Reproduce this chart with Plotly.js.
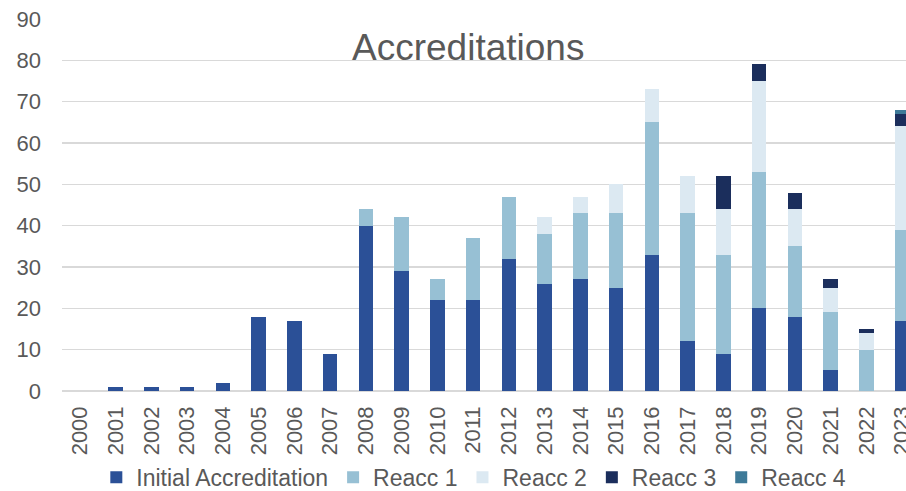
<!DOCTYPE html>
<html>
<head>
<meta charset="utf-8">
<script src="https://cdn.plot.ly/plotly-3.0.1.min.js"></script>
<style>
html, body { margin: 0; padding: 0; overflow: hidden; background: #fff; }
#chart { width: 922px; height: 491px; }
</style>
</head>
<body>
<div id="chart"></div>
<script>
const years = ["2000","2001","2002","2003","2004","2005","2006","2007","2008","2009","2010","2011","2012","2013","2014","2015","2016","2017","2018","2019","2020","2021","2022","2023"];
const initialAccreditation = [0,1,1,1,2,18,17,9,40,29,22,22,32,26,27,25,33,12,9,20,18,5,0,17];
const reacc1 = [0,0,0,0,0,0,0,0,4,13,5,15,15,12,16,18,32,31,24,33,17,14,10,22];
const reacc2 = [0,0,0,0,0,0,0,0,0,0,0,0,0,4,4,7,8,9,11,22,9,6,4,25];
const reacc3 = [0,0,0,0,0,0,0,0,0,0,0,0,0,0,0,0,0,0,8,4,4,2,1,3];
const reacc4 = [0,0,0,0,0,0,0,0,0,0,0,0,0,0,0,0,0,0,0,0,0,0,0,1];
const seriesNames = ["Initial Accreditation","Reacc 1","Reacc 2","Reacc 3","Reacc 4"];
const seriesColors = ["#2B5097","#97C0D4","#DCE9F2","#1B2E5C","#3E7A98"];
const seriesValues = [initialAccreditation, reacc1, reacc2, reacc3, reacc4];

const textColor = "#595959";
const fontFamily = "Liberation Sans, Arial, sans-serif";

const traces = seriesValues.map((vals, i) => ({
  type: "bar",
  x: years,
  y: vals,
  name: seriesNames[i],
  marker: { color: seriesColors[i], line: { width: 0 } },
  hoverinfo: "x+y+name"
}));

const layout = {
  width: 922,
  height: 491,
  margin: { l: 62, r: 2, t: 19, b: 100, pad: 0, autoexpand: false },
  barmode: "stack",
  bargap: 0.6,
  paper_bgcolor: "#ffffff",
  plot_bgcolor: "#ffffff",
  font: { family: fontFamily, color: textColor, size: 22 },
  showlegend: true,
  legend: {
    orientation: "h",
    x: 0.04, xanchor: "left",
    y: -0.232, yanchor: "middle",
    maxheight: 200,
    font: { family: fontFamily, size: 23, color: textColor },
    bgcolor: "rgba(0,0,0,0)",
    traceorder: "normal"
  },
  xaxis: {
    type: "category",
    tickangle: -90,
    ticks: "",
    showgrid: false,
    zeroline: false,
    showline: false,
    automargin: false,
    tickfont: { family: fontFamily, size: 22, color: textColor },
    ticklabelstandoff: 10
  },
  yaxis: {
    range: [0, 90],
    dtick: 10,
    tick0: 0,
    ticks: "",
    showgrid: true,
    gridcolor: "#D9D9D9",
    gridwidth: 1.4,
    zeroline: true,
    zerolinecolor: "#D9D9D9",
    zerolinewidth: 1.4,
    showline: false,
    automargin: false,
    tickfont: { family: fontFamily, size: 22, color: textColor },
    ticklabelstandoff: 20
  },
  annotations: [{
    text: "Accreditations",
    xref: "paper", yref: "paper",
    x: 0.4737, y: 0.924,
    xanchor: "center", yanchor: "middle",
    showarrow: false,
    font: { family: fontFamily, size: 37, color: textColor }
  }]
};

Plotly.newPlot("chart", traces, layout, { displayModeBar: false, staticPlot: true });
</script>
</body>
</html>
